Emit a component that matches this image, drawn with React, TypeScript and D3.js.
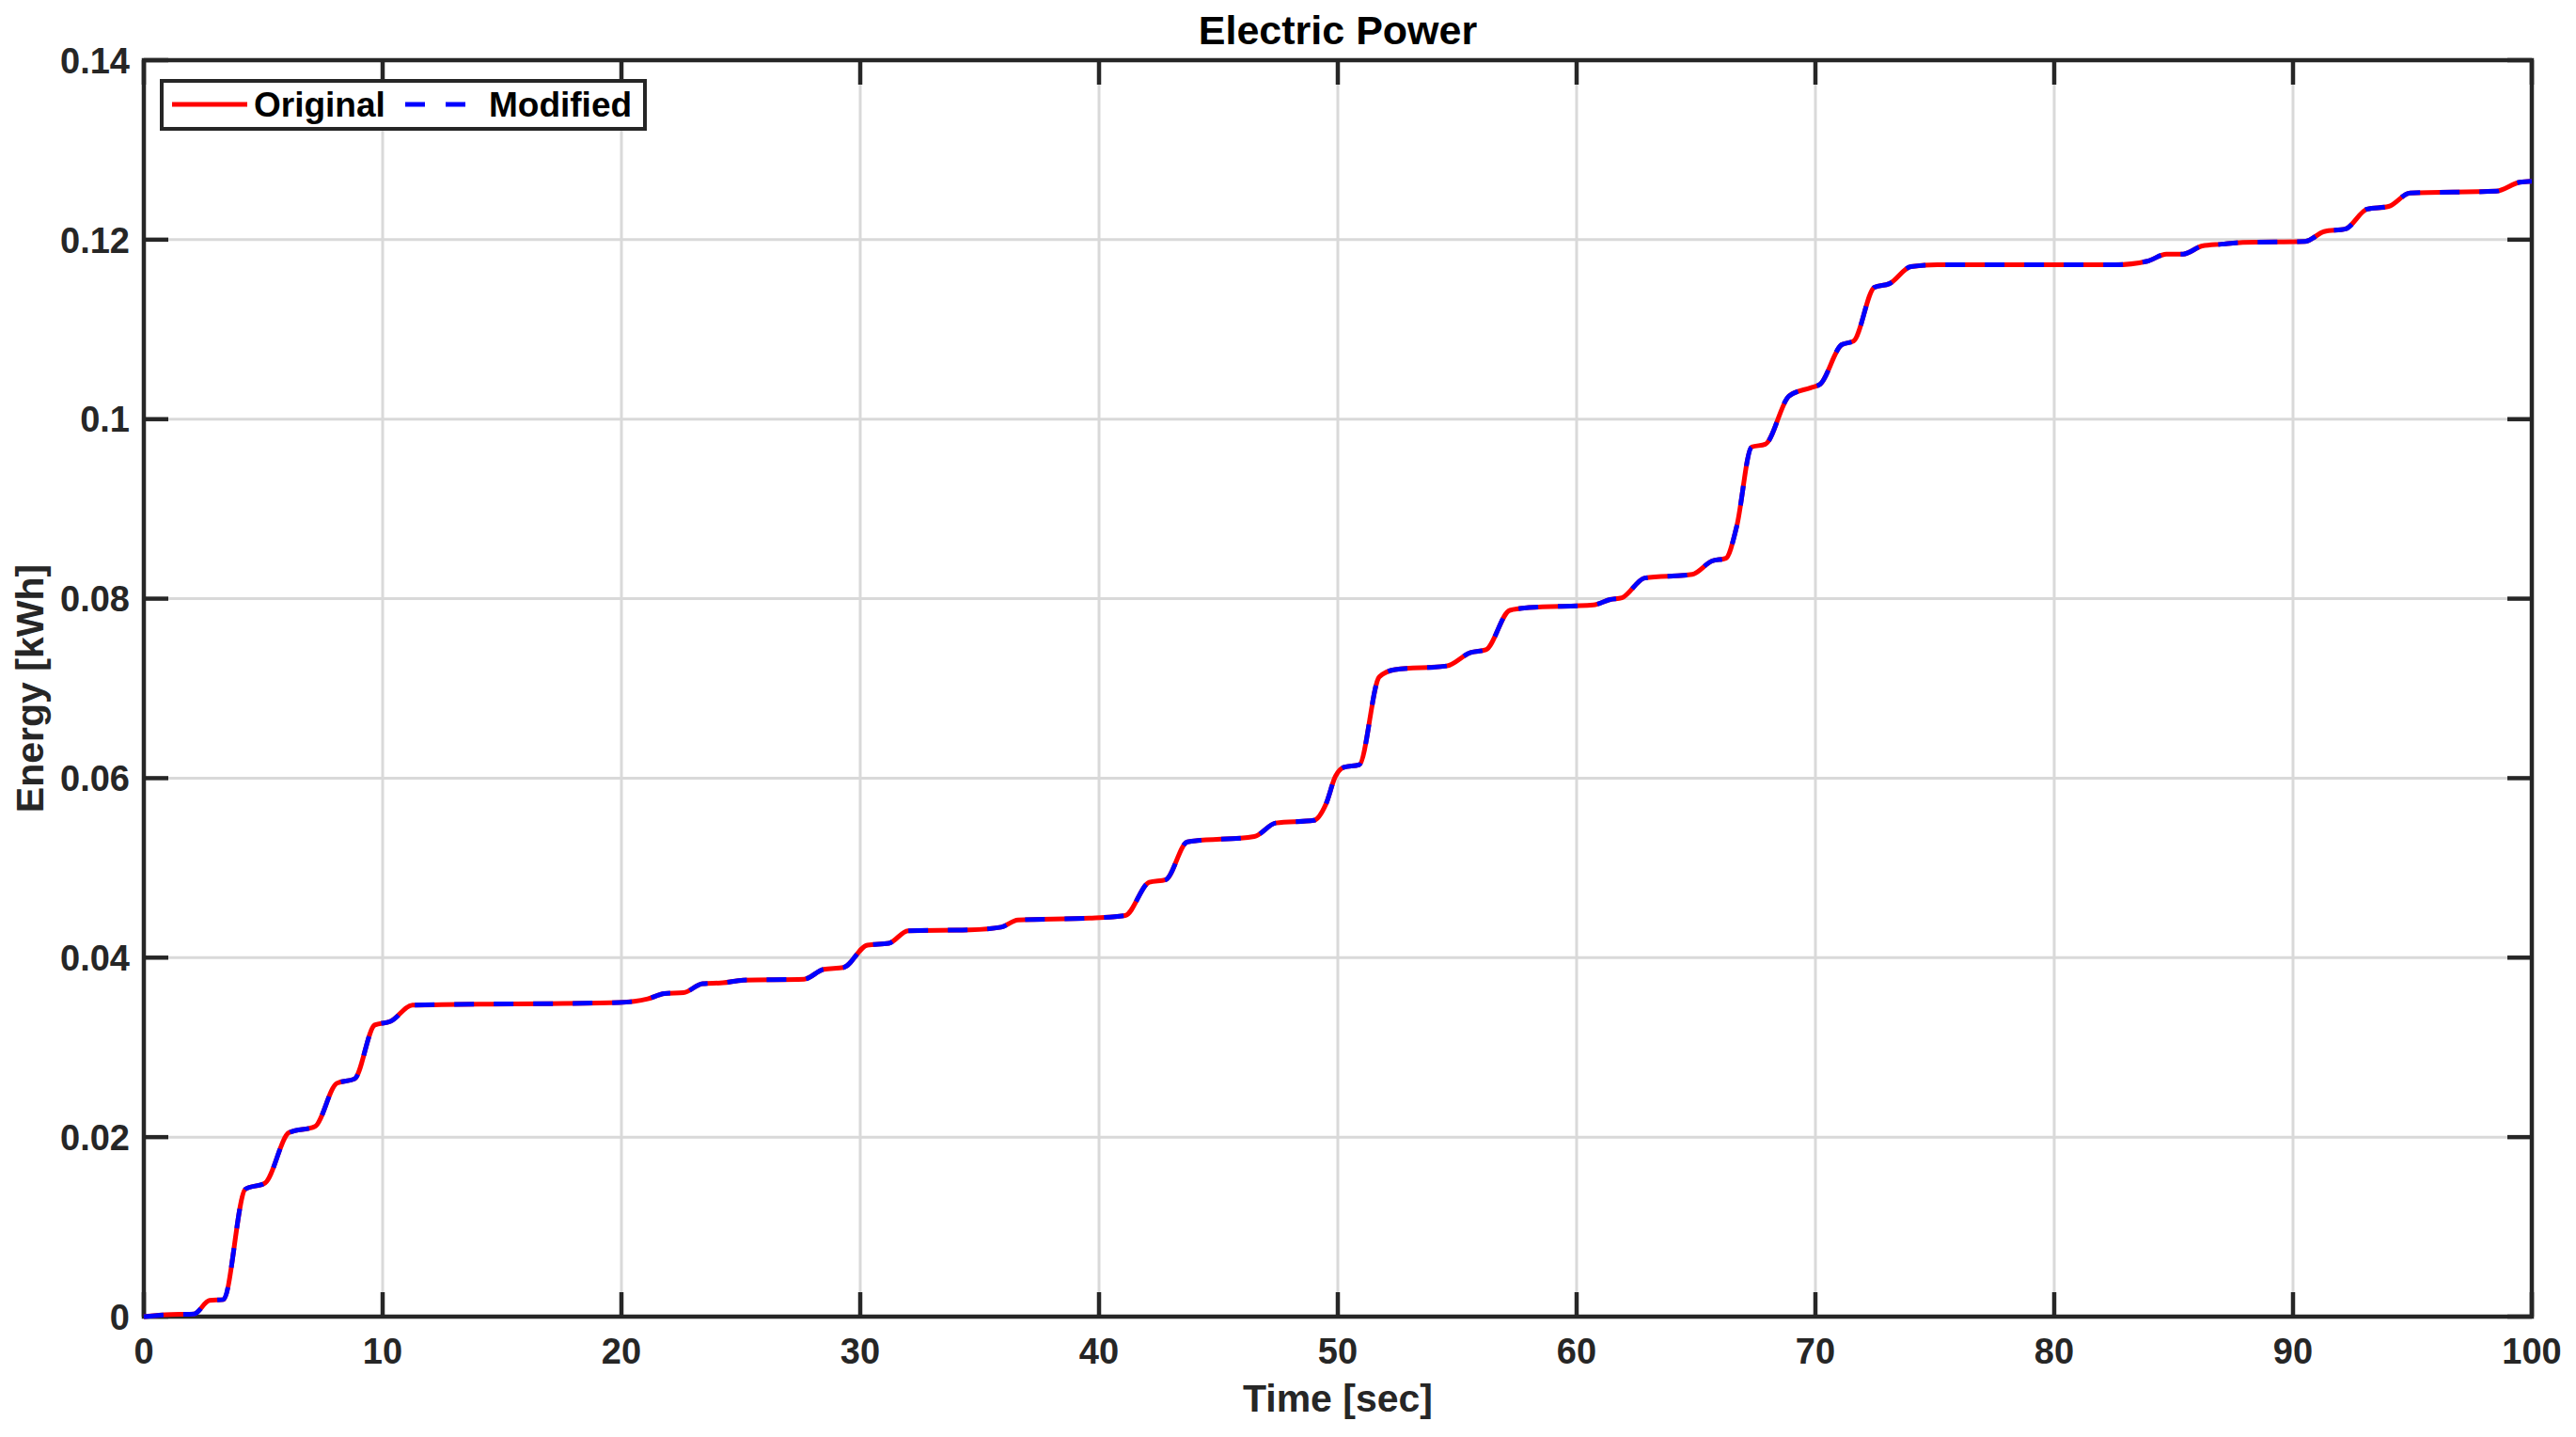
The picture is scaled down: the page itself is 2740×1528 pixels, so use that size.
import React from 'react';
import * as d3 from 'd3';

const W = 2740;
const H = 1528;

// time [sec] and energy [kWh] (both runs overlap)
const timeSec = [
  0, 0.9, 2.1, 2.75, 3.33, 4.25, 5.08, 6.08, 7.17, 8.08, 8.83, 9.67, 10.33, 11.25, 19.9,
  21.1, 21.8, 22.6, 23.4, 24.25, 25.1, 27.65, 28.47, 29.3, 30.3, 31.2, 32.0, 34.6, 35.9,
  36.6, 39.6, 41.1, 42.1, 42.8, 43.7, 46.5, 47.4, 49.0, 49.5, 49.9, 50.25, 50.9, 51.74,
  52.4, 54.56, 55.56, 56.2, 57.2, 58.0, 60.7, 61.4, 61.9, 62.85, 64.84, 65.67, 66.25,
  66.7, 67.33, 67.9, 68.9, 69.8, 70.2, 71.1, 71.6, 72.47, 73.1, 74.0, 75.1, 82.55, 83.9,
  84.7, 85.4, 86.2, 87.0, 87.9, 90.5, 91.3, 92.2, 93.1, 94.0, 94.9, 98.5, 99.5, 100,
];

const energyOriginal = [
  0, 0.0002, 0.0003, 0.0018, 0.0019, 0.0142, 0.0149, 0.0205, 0.0212, 0.026, 0.0265, 0.0325,
  0.0329, 0.0347, 0.035, 0.0354, 0.036, 0.0361, 0.0371, 0.0372, 0.0375, 0.0376, 0.0387,
  0.0389, 0.0414, 0.0416, 0.043, 0.0431, 0.0434, 0.0442, 0.0444, 0.0447, 0.0484, 0.0487,
  0.0529, 0.0535, 0.055, 0.0553, 0.0571, 0.0602, 0.0612, 0.0615, 0.0713, 0.0721, 0.0725,
  0.074, 0.0743, 0.0787, 0.079, 0.0793, 0.0799, 0.0801, 0.0823, 0.0827, 0.0842, 0.0845,
  0.088, 0.0969, 0.0972, 0.1026, 0.1035, 0.1039, 0.1083, 0.1087, 0.1147, 0.1151, 0.117,
  0.1172, 0.1172, 0.1176, 0.1184, 0.1184, 0.1193, 0.1195, 0.1197, 0.1198, 0.1209, 0.1212,
  0.1234, 0.1237, 0.1252, 0.1254, 0.1264, 0.1265,
];

// modified run lies right on top of the original one
const energyModified = energyOriginal.slice();

const xTicks = [0, 10, 20, 30, 40, 50, 60, 70, 80, 90, 100];
const yTicks = [0, 0.02, 0.04, 0.06, 0.08, 0.1, 0.12, 0.14];
const yTickLabels = ['0', '0.02', '0.04', '0.06', '0.08', '0.1', '0.12', '0.14'];

const margin = { left: 153, right: 2693, top: 64, bottom: 1400 };
const axisColor = '#262626';
const font = '"Liberation Sans", Arial, Helvetica, sans-serif';

export default function App() {
  const x = d3.scaleLinear().domain([0, 100]).range([margin.left, margin.right]);
  const y = d3.scaleLinear().domain([0, 0.14]).range([margin.bottom, margin.top]);

  const line = d3
    .line<number>()
    .x((_, i) => x(timeSec[i]))
    .y((d) => y(d))
    .curve(d3.curveMonotoneX);

  const tickLen = 26;

  return (
    <svg
      width={W}
      height={H}
      style={{ position: 'absolute', left: 0, top: 0, background: '#fff' }}
      fontFamily={font}
      fontWeight="bold"
    >
      <rect x={0} y={0} width={W} height={H} fill="#fff" />

      {/* grid */}
      <g stroke="#d9d9d9" strokeWidth={3}>
        {xTicks.slice(1, -1).map((t) => (
          <line key={'gx' + t} x1={x(t)} x2={x(t)} y1={margin.top} y2={margin.bottom} />
        ))}
        {yTicks.slice(1, -1).map((t) => (
          <line key={'gy' + t} x1={margin.left} x2={margin.right} y1={y(t)} y2={y(t)} />
        ))}
      </g>

      {/* ticks, inward on all four sides */}
      <g stroke={axisColor} strokeWidth={4.5}>
        {xTicks.map((t) => (
          <g key={'tx' + t}>
            <line x1={x(t)} x2={x(t)} y1={margin.bottom} y2={margin.bottom - tickLen} />
            <line x1={x(t)} x2={x(t)} y1={margin.top} y2={margin.top + tickLen} />
          </g>
        ))}
        {yTicks.map((t) => (
          <g key={'ty' + t}>
            <line x1={margin.left} x2={margin.left + tickLen} y1={y(t)} y2={y(t)} />
            <line x1={margin.right} x2={margin.right - tickLen} y1={y(t)} y2={y(t)} />
          </g>
        ))}
      </g>

      <rect
        x={margin.left}
        y={margin.top}
        width={margin.right - margin.left}
        height={margin.bottom - margin.top}
        fill="none"
        stroke={axisColor}
        strokeWidth={4.5}
      />

      {/* tick labels */}
      <g fill={axisColor} fontSize={38}>
        {xTicks.map((t) => (
          <text key={'lx' + t} x={x(t)} y={1450} textAnchor="middle">
            {t}
          </text>
        ))}
        {yTicks.map((t, i) => (
          <text key={'ly' + t} x={138} y={y(t)} dy="0.36em" textAnchor="end">
            {yTickLabels[i]}
          </text>
        ))}
      </g>

      {/* series */}
      <path d={line(energyOriginal) || ''} fill="none" stroke="#ff0000" strokeWidth={5} />
      <path
        d={line(energyModified) || ''}
        fill="none"
        stroke="#0000ff"
        strokeWidth={5}
        strokeDasharray="21 21"
      />

      {/* title and axis labels */}
      <text x={(margin.left + margin.right) / 2} y={47} textAnchor="middle" fontSize={43} fill="#000">
        Electric Power
      </text>
      <text x={(margin.left + margin.right) / 2} y={1501} textAnchor="middle" fontSize={41} fill={axisColor}>
        Time [sec]
      </text>
      <text
        transform={`translate(46, ${(margin.top + margin.bottom) / 2}) rotate(-90)`}
        textAnchor="middle"
        fontSize={41}
        fill={axisColor}
      >
        Energy [kWh]
      </text>

      {/* legend */}
      <g>
        <rect x={172} y={86} width={514} height={51} fill="#fff" stroke={axisColor} strokeWidth={4} />
        <line x1={183} x2={263} y1={111} y2={111} stroke="#ff0000" strokeWidth={5} />
        <text x={270} y={124} fontSize={37} fill="#000">
          Original
        </text>
        <line x1={431} x2={515} y1={111} y2={111} stroke="#0000ff" strokeWidth={5} strokeDasharray="21 22" />
        <text x={520} y={124} fontSize={37} fill="#000">
          Modified
        </text>
      </g>
    </svg>
  );
}
